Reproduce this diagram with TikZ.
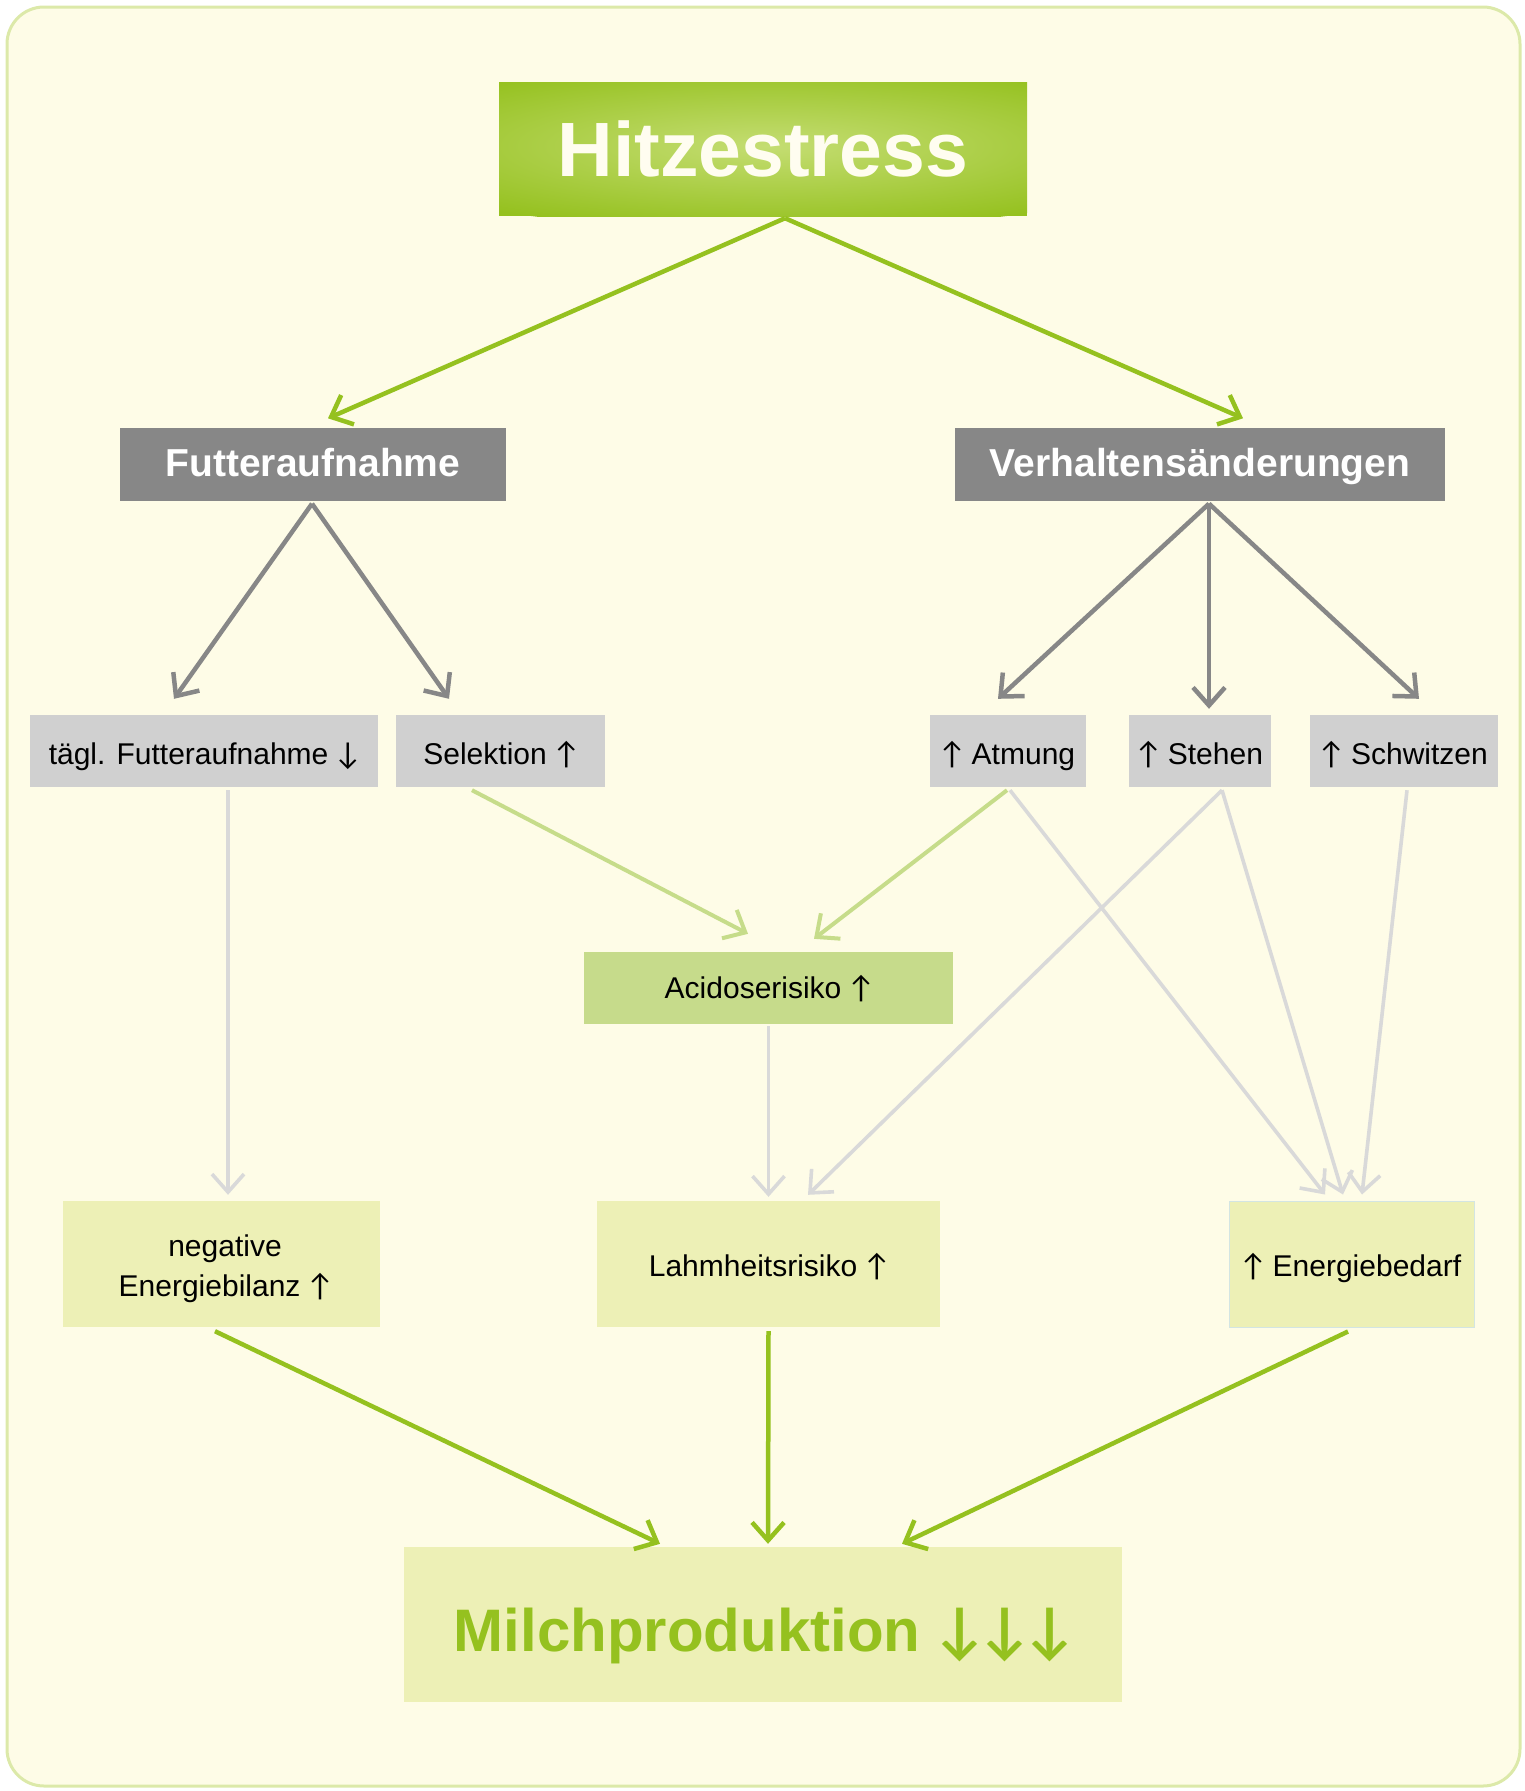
\documentclass[tikz,border=0pt]{standalone}
\usepackage{fontspec}
\setmainfont{Liberation Sans}
\newfontfamily\arrfont{Lato}
\usetikzlibrary{arrows.meta,calc}
\definecolor{bgc}{HTML}{FEFCE7}
\definecolor{framec}{HTML}{DCE9A9}
\definecolor{hsgreen}{HTML}{95C11F}
\definecolor{hsglow}{HTML}{C4DD72}
\definecolor{hstext}{HTML}{FFFDF0}
\definecolor{darkgray}{HTML}{878787}
\definecolor{lightgray}{HTML}{D0D0D0}
\definecolor{acid}{HTML}{C6DB8B}
\definecolor{pale}{HTML}{EDF0B6}
\definecolor{arrlight}{HTML}{D9D9D9}
\definecolor{arrlgreen}{HTML}{C6DC8A}
\definecolor{enborder}{HTML}{D3E5E3}
\newcommand{\upar}{{\arrfont\mdseries ↑}}
\newcommand{\dnar}{{\arrfont\mdseries ↓}}
\tikzset{
  box/.style={rectangle, inner sep=0pt, align=center},
  head/.style={box, fill=darkgray, text=white, font=\fontsize{39}{44}\selectfont\bfseries, minimum height=73pt, text height=25.5pt, text depth=0pt},
  sub/.style={box, fill=lightgray, text=black, font=\fontsize{30}{40}\selectfont, minimum height=72pt, text height=27pt, text depth=0pt},
  res/.style={box, fill=pale, text=black, font=\fontsize{30}{40}\selectfont, minimum height=126pt, text height=25.5pt, text depth=0pt},
  tipx/.style={-{Straight Barb[length=18pt,width=32pt]}},
  agreen/.style={tipx, draw=hsgreen, line width=4.5pt},
  adark/.style={tipx, draw=darkgray, line width=4.5pt},
  alight/.style={tipx, draw=arrlight, line width=3.6pt},
  algreen/.style={tipx, draw=arrlgreen, line width=4pt},
}
\begin{document}
\begin{tikzpicture}[x=1pt,y=-1pt]
\useasboundingbox (0,0) rectangle (1525,1791);
\draw[line width=3pt, draw=framec, fill=bgc, rounded corners=37pt] (7,7) rectangle (1520,1786);

% Hitzestress box with glow
\fill[hsgreen] (499,82) rectangle (1027,216);
\begin{scope}
  \clip (499,82) rectangle (1027,216);
  \shade[inner color=hsglow, outer color=hsgreen] (769,146) ellipse [x radius=430, y radius=84];
\end{scope}
\node[box, minimum width=528pt, minimum height=134pt, text=hstext,
      font=\fontsize{77}{80}\selectfont\bfseries] (hs) at (763,149) {Hitzestress};

\node[head, minimum width=386pt] (fa) at (313,464) {Futteraufnahme};
\node[head, minimum width=490pt] (vh) at (1200,464) {Verhaltensänderungen};

\node[sub, minimum width=348pt] (ta) at (204,751) {tägl. Futteraufnahme \dnar};
\node[sub, minimum width=209pt] (se) at (500.5,751) {Selektion \upar};
\node[sub, minimum width=156pt] (at) at (1008,751) {\upar\ Atmung};
\node[sub, minimum width=142pt] (st) at (1200,751) {\upar\ Stehen};
\node[sub, minimum width=188pt] (sw) at (1404,751) {\upar\ Schwitzen};

\node[box, fill=acid, font=\fontsize{30}{40}\selectfont, minimum width=369pt, minimum height=72pt, text height=21.5pt, text depth=0pt] (ac) at (768.5,988) {Acidoserisiko \upar};

\node[box, fill=pale, minimum width=317pt, minimum height=126pt] (ne) at (221.5,1264) {};
\node[box, font=\fontsize{30}{40}\selectfont] (net) at (225,1269) {negative\\[0pt]Energiebilanz \upar};
\node[res, minimum width=343pt] (la) at (768.5,1264) {Lahmheitsrisiko \upar};
\node[res, minimum width=245pt, draw=enborder, line width=1pt] (en) at (1351.5,1264) {\upar\ Energiebedarf};

\node[box, fill=pale, text=hsgreen, minimum width=718pt, minimum height=155pt,
      font=\fontsize{60}{66}\selectfont\bfseries, text height=54pt, text depth=0pt] (mi) at (763,1624.5) {Milchproduktion {\arrfont\bfseries ↓↓↓}};

% connectors
\draw[agreen] ($(hs.south)+(22,2)$) -- ($(fa.north)+(15,-9)$);
\draw[agreen] ($(hs.south)+(22,2)$) -- ($(vh.north)+(43,-9)$);

\draw[adark] ($(fa.south)+(-1,3)$) -- ($(ta.north)+(-30,-16)$);
\draw[adark] ($(fa.south)+(-1,3)$) -- ($(se.north)+(-51.5,-16)$);
\draw[adark] ($(vh.south)+(9,3)$) -- ($(at.north)+(-10,-16)$);
\draw[adark] ($(vh.south)+(9,3)$) -- ($(st.north)+(9,-6)$);
\draw[adark] ($(vh.south)+(9,3)$) -- ($(sw.north)+(15,-16)$);

\draw[algreen] ($(se.south)+(-28.5,3)$) -- ($(ac.north)+(-20.5,-18)$);
\draw[algreen] ($(at.south)+(-1,3)$) -- ($(ac.north)+(45.5,-13)$);

\draw[alight] ($(ta.south)+(24,3)$) -- ($(ne.north)+(6.5,-6)$);
\draw[alight] ($(ac.south)+(0,2)$) -- ($(la.north)+(0,-4)$);
\draw[alight] ($(st.south)+(22,3)$) -- ($(la.north)+(39.5,-6)$);
\draw[alight] ($(at.south)+(2,3)$) -- ($(en.north)+(-26.5,-6)$);
\draw[alight] ($(st.south)+(22,3)$) -- ($(en.north)+(-8.5,-6)$);
\draw[alight] ($(sw.south)+(3,3)$) -- ($(en.north)+(10.5,-6)$);

\draw[agreen] ($(ne.south)+(-6.5,4)$) -- ($(mi.north)+(-103,-3)$);
\draw[agreen] ($(la.south)+(0,4)$) -- ($(mi.north)+(5,-3)$);
\draw[agreen] ($(en.south)+(-3.5,4)$) -- ($(mi.north)+(139,-3)$);
\end{tikzpicture}
\end{document}
